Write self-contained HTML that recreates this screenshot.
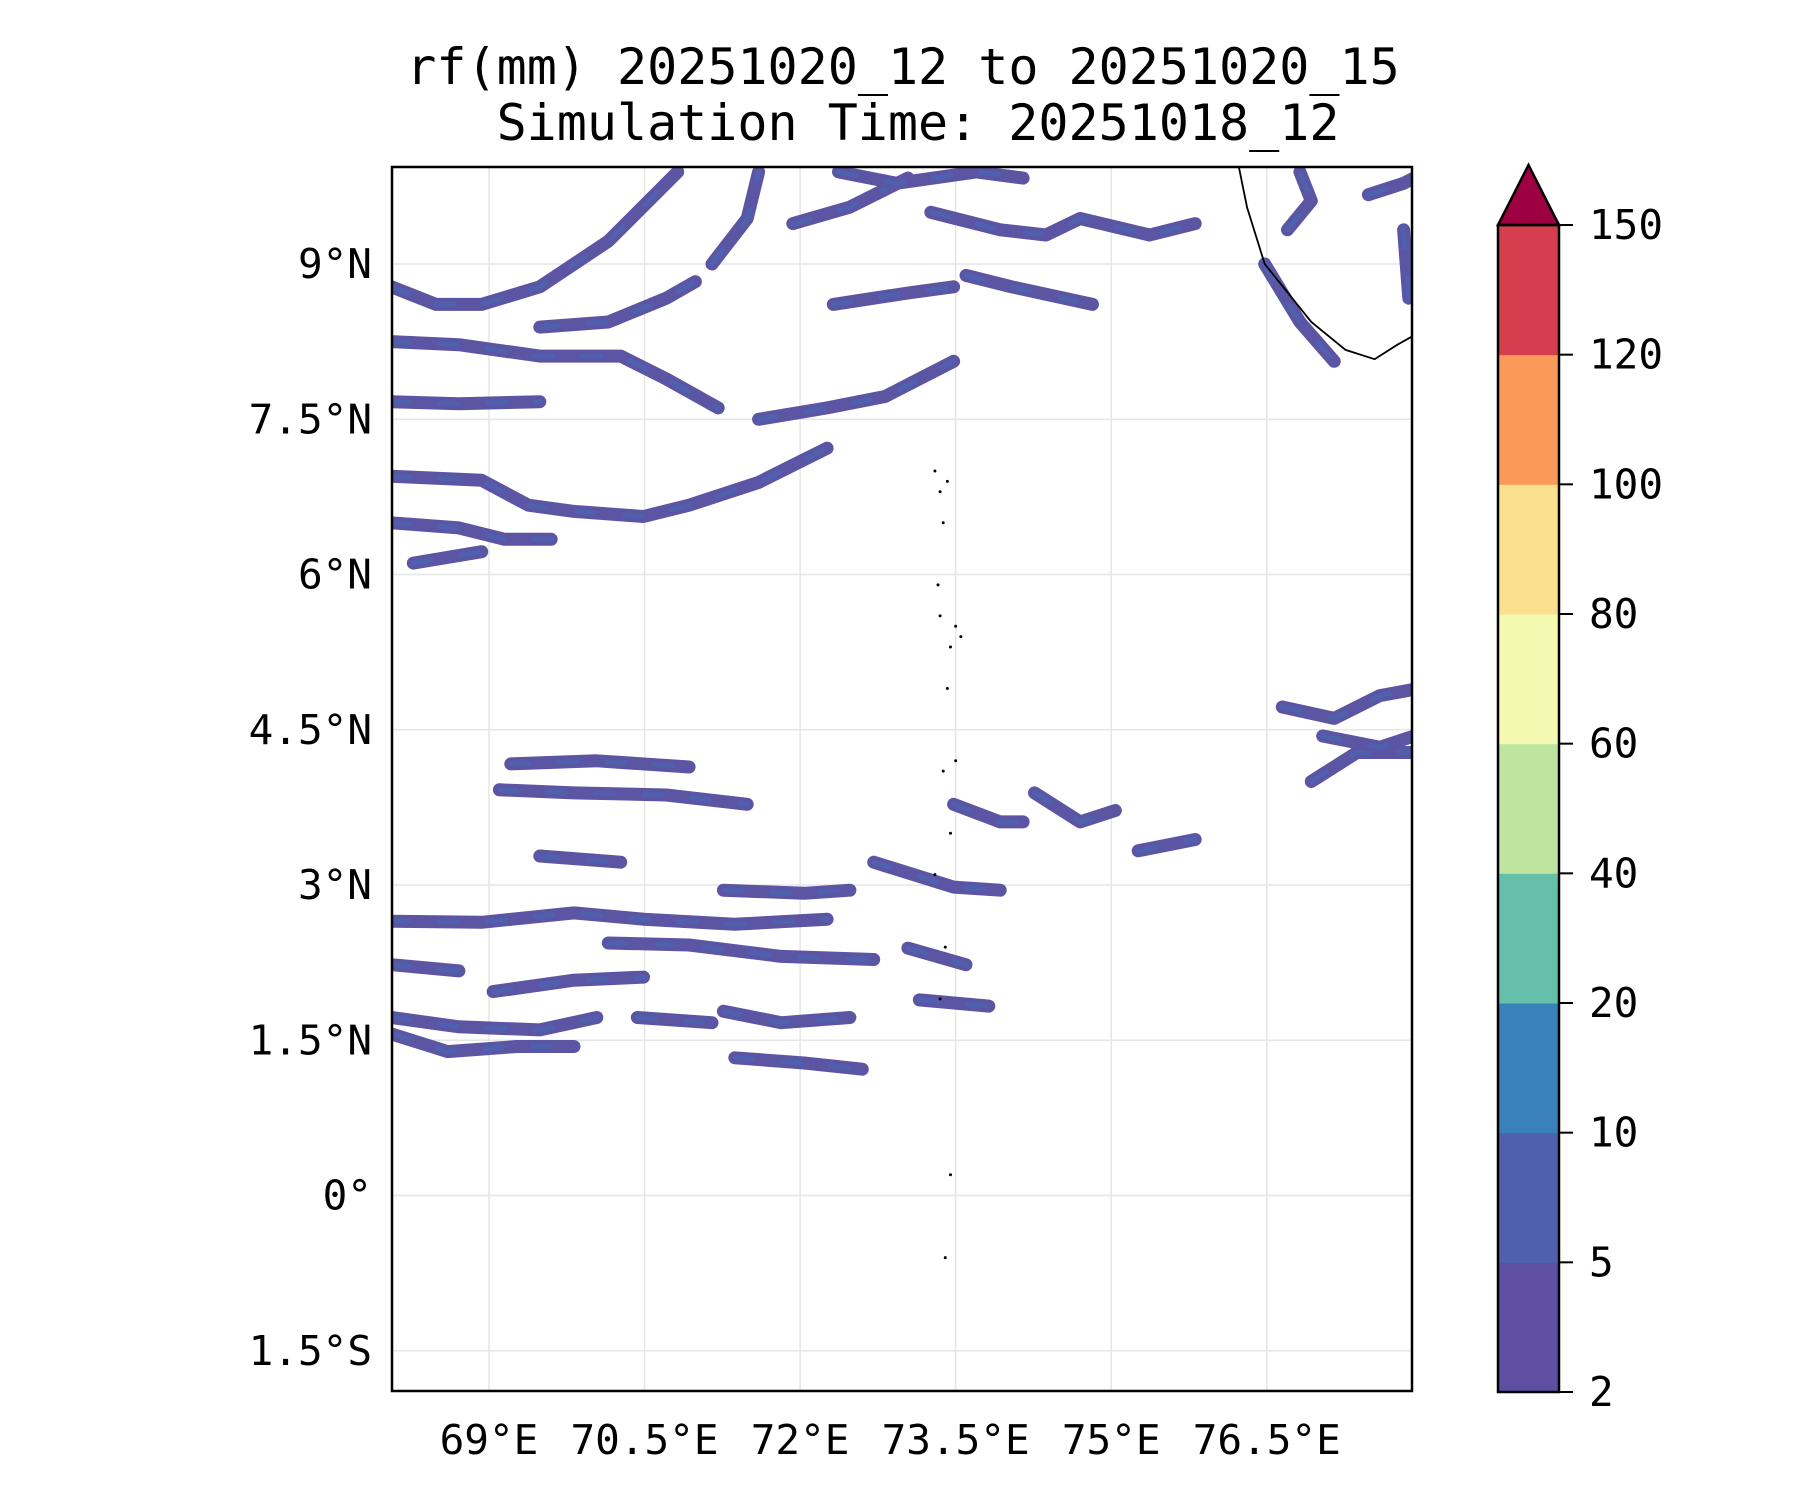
<!DOCTYPE html>
<html><head><meta charset="utf-8"><style>
html,body{margin:0;padding:0;background:#fff;}
svg text{font-family:"DejaVu Sans Mono","Liberation Mono",monospace;fill:#000;}
</style></head><body>
<svg id="chart" width="1800" height="1500" viewBox="0 0 1800 1500" xmlns="http://www.w3.org/2000/svg">
<g id="titles">
<text x="903" y="84" font-size="50" text-anchor="middle">rf(mm) 20251020_12 to 20251020_15</text>
<text x="918" y="140" font-size="50" text-anchor="middle">Simulation Time: 20251018_12</text>
</g>
<defs><clipPath id="plotclip"><rect x="391" y="166" width="1022" height="1226"/></clipPath></defs>
<g id="grid"></g>
<g id="rain" clip-path="url(#plotclip)"></g>
<g id="coast" clip-path="url(#plotclip)"></g>
<rect x="392" y="167" width="1020" height="1224" fill="none" stroke="#000" stroke-width="2.5"/>
<g id="axes"></g>
<g id="cbar"></g>
</svg>
<script>
const lonTicks=[69,70.5,72,73.5,75,76.5];
const lonLabels=["69°E","70.5°E","72°E","73.5°E","75°E","76.5°E"];
const latTicks=[9,7.5,6,4.5,3,1.5,0,-1.5];
const latLabels=["9°N","7.5°N","6°N","4.5°N","3°N","1.5°N","0°","1.5°S"];
const cbarLevels=[2,5,10,20,40,60,80,100,120,150];
const cbarColors=["#5e4fa2","#4f61ae","#3a80b9","#66bfa8","#bde4a0","#f3f9b0","#fbe08f","#f99a58","#d53e4f"];
const extendColor="#9e0142";
// rain bands as [lon,lat] polylines
const bandLons=[
[68.06,68.49,68.93,69.49,70.15,70.82],
[68.06,68.71,69.49,70.27,70.71,71.21],
[68.06,68.71,69.49],
[69.49,70.15,70.71,70.99],
[68.06,68.93,69.38,69.82,70.49,70.93,71.6,72.26],
[68.06,68.71,69.15,69.6],
[68.27,68.93],
[71.6,72.26,72.82,73.48],
[71.15,71.49,71.6],
[71.93,72.48,73.04],
[72.32,73.04,73.48],
[73.26,73.93,74.37,74.7,75.37,75.81],
[73.6,74.04,74.82],
[72.37,72.93,73.7,74.15],
[76.48,76.82,77.15],
[76.7,76.93,76.82],
[77.48,77.82,77.92],
[77.82,77.87],
[76.65,77.15,77.59,77.92],
[76.93,77.37,77.92],
[77.04,77.59,77.92],
[69.21,70.04,70.93],
[69.1,69.82,70.71,71.49],
[69.49,70.27],
[71.26,72.04,72.48],
[68.06,68.93,69.82,70.49,71.37,72.26],
[70.15,70.93,71.82,72.71],
[68.06,68.71],
[69.04,69.82,70.49],
[71.26,71.82,72.48],
[68.06,68.71,69.49,70.04],
[70.43,71.15],
[68.06,68.6,69.27,69.82],
[71.37,72.04,72.6],
[72.71,73.48,73.93],
[73.48,73.93,74.15],
[74.26,74.7,75.04],
[75.26,75.81],
[73.04,73.6],
[73.15,73.82]
];
const bandLats=[
[8.78,8.61,8.61,8.78,9.22,9.89],
[8.25,8.22,8.11,8.11,7.89,7.61],
[7.67,7.65,7.67],
[8.39,8.44,8.67,8.83],
[6.95,6.91,6.67,6.61,6.56,6.67,6.89,7.22],
[6.5,6.45,6.34,6.34],
[6.11,6.22],
[7.5,7.61,7.72,8.06],
[9.0,9.44,9.89],
[9.39,9.55,9.83],
[8.61,8.72,8.78],
[9.5,9.33,9.28,9.44,9.28,9.39],
[8.89,8.78,8.61],
[9.89,9.78,9.89,9.83],
[9.0,8.44,8.06],
[9.33,9.61,9.89],
[9.67,9.78,9.83],
[9.33,8.67],
[4.72,4.61,4.83,4.89],
[4.0,4.28,4.28],
[4.44,4.33,4.44],
[4.17,4.2,4.14],
[3.92,3.89,3.87,3.78],
[3.28,3.22],
[2.95,2.92,2.95],
[2.65,2.64,2.73,2.67,2.62,2.67],
[2.44,2.42,2.31,2.28],
[2.23,2.17],
[1.97,2.08,2.11],
[1.78,1.67,1.72],
[1.72,1.63,1.6,1.72],
[1.72,1.67],
[1.56,1.39,1.44,1.44],
[1.33,1.28,1.22],
[3.22,2.98,2.95],
[3.78,3.61,3.61],
[3.89,3.61,3.72],
[3.33,3.44],
[2.39,2.23],
[1.89,1.83]
];
const coastLons=[76.23,76.31,76.48,76.93,77.26,77.54,77.76,77.92];
const coastLats=[9.94,9.55,9.0,8.44,8.17,8.08,8.22,8.31];
const islandLons=[73.3,73.35,73.42,73.38,73.33,73.35,73.5,73.55,73.45,73.42,73.5,73.38,73.45,73.3,73.4,73.35,73.45,73.4];
const islandLats=[7.0,6.8,6.9,6.5,5.9,5.6,5.5,5.4,5.3,4.9,4.2,4.1,3.5,3.1,2.4,1.9,0.2,-0.6];

const NS="http://www.w3.org/2000/svg";
const X0=391,X1=1413,Y0=166,Y1=1392;
function xs(lon){return 489+(lon-69)*103.7;}
function ys(lat){return 264-(lat-9)*103.5;}
function mk(tag,attrs,parent){const e=document.createElementNS(NS,tag);for(const k in attrs)e.setAttribute(k,attrs[k]);parent.appendChild(e);return e;}
const grid=document.getElementById('grid'),axes=document.getElementById('axes');
lonTicks.forEach((v,i)=>{
 const g=mk('line',{x1:xs(v),x2:xs(v),y1:Y0,y2:Y1,stroke:'#e6e6e6','stroke-width':1.5},grid);
 
 
 const t=mk('text',{x:xs(v),y:1454,'font-size':41,'text-anchor':'middle'},axes);
 t.textContent=lonLabels[i];
 
 
});
latTicks.forEach((v,i)=>{
 const g=mk('line',{x1:X0,x2:X1,y1:ys(v),y2:ys(v),stroke:'#e6e6e6','stroke-width':1.5},grid);
 
 
 const t=mk('text',{x:372,y:ys(v)+14,'font-size':41,'text-anchor':'end'},axes);
 t.textContent=latLabels[i];
 
 
});
const rain=document.getElementById('rain');
function pts(lons,lats){return lons.map((l,i)=>xs(l).toFixed(1)+','+ys(lats[i]).toFixed(1)).join(' ');}
bandLons.forEach((lons,i)=>{
 const p=mk('polyline',{points:pts(lons,bandLats[i]),fill:'none',stroke:'#5b55a3','stroke-width':13,'stroke-linecap':'round','stroke-linejoin':'round'},rain);
 
 
 const q=mk('polyline',{points:pts(lons,bandLats[i]),fill:'none',stroke:'#4f61ae','stroke-width':5,'stroke-linecap':'round','stroke-dasharray':'18 30'},rain);
 
 
});
const coast=document.getElementById('coast');
const c=mk('polyline',{points:pts(coastLons,coastLats),fill:'none',stroke:'#000','stroke-width':1.8},coast);


islandLons.forEach((l,i)=>{
 const d=mk('circle',{cx:xs(l),cy:ys(islandLats[i]),r:1.5,fill:'#000'},coast);
 
 
});
const cbar=document.getElementById('cbar');
const CX=1498,CW=61,CT=225,CB=1392,seg=(CB-CT)/(cbarLevels.length-1);
cbarColors.forEach((col,i)=>{
 const r=mk('rect',{x:CX,y:CB-(i+1)*seg,width:CW,height:seg+0.5,fill:col},cbar);
 
 
});
const tri=mk('polygon',{points:`${CX},${CT} ${CX+CW},${CT} ${CX+CW/2},165`,fill:extendColor,stroke:'#000','stroke-width':2.5},cbar);


const fr=mk('rect',{x:CX,y:CT,width:CW,height:CB-CT,fill:'none',stroke:'#000','stroke-width':2.5},cbar);


cbarLevels.forEach((v,i)=>{
 const y=CB-i*seg;
 mk('line',{x1:CX+CW,x2:CX+CW+14,y1:y,y2:y,stroke:'#000','stroke-width':2},cbar);
 const t=mk('text',{x:1589,y:y+14,'font-size':41},cbar);
 t.textContent=v;
 
 
});
</script>
</body></html>
